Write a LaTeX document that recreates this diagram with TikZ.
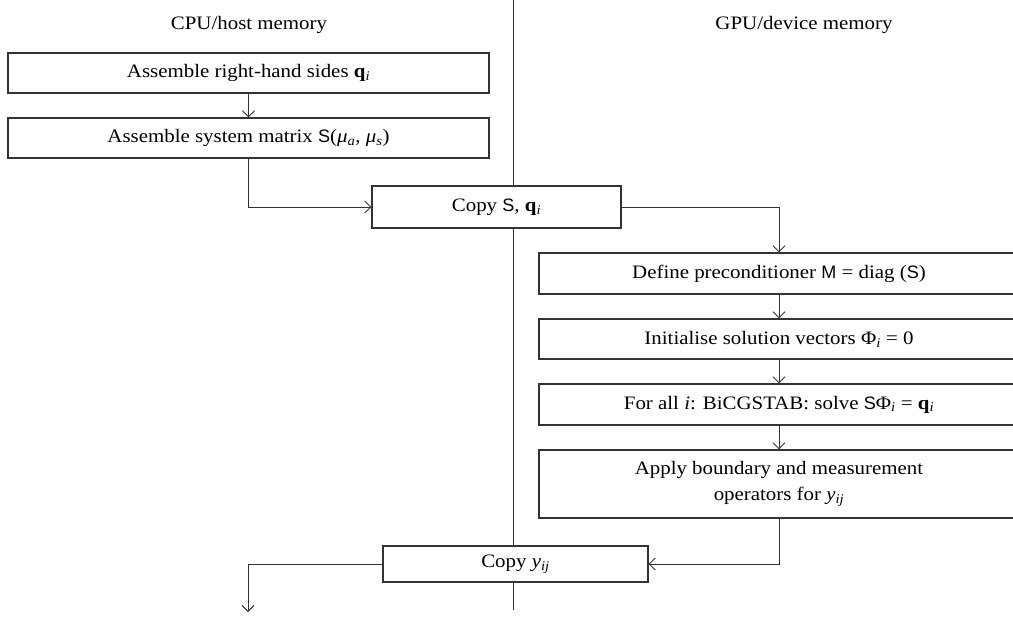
\documentclass[tikz,border=0pt]{standalone}
\usepackage{fontspec}
\setmainfont{Liberation Serif}[FakeStretch=1.1]
\setsansfont{Liberation Sans}[Scale=0.95]
\usetikzlibrary{arrows.meta}
\newcommand{\fsz}{\fontsize{19}{26}\selectfont}
\newcommand{\vq}{\textbf{q}\textsubscript{\textit{i}}}
\newcommand{\vy}{\textit{y}\textsubscript{\textit{ij}}}
\begin{document}
\begin{tikzpicture}[x=1pt,y=-1pt,
  box/.style={draw=black!80, line width=1.3pt, fill=white, inner sep=0pt, align=center, font=\fsz},
  conn/.style={draw=black!80, line width=0.9pt},
  arr/.style={conn, -{Straight Barb[length=6pt,width=12pt]}},
  head/.style={font=\fsz, inner sep=0pt}]
\useasboundingbox (0,0) rectangle (1013,619);
\coordinate (dtop) at (513,0);
\coordinate (dbot) at (513,610);
\draw[conn] (dtop) -- (dbot);
\node[head] (hcpu) at (249,25) {CPU/host memory};
\node[head] (hgpu) at (804,25) {GPU/device memory};
\node[box, minimum width=481, minimum height=40] (b1) at (248.5,73) {Assemble right-hand sides \vq};
\node[box, minimum width=481, minimum height=40] (b2) at (248.5,138) {Assemble system matrix \textsf{S}(\textit{μ}\textsubscript{\textit{a}}, \textit{μ}\textsubscript{\textit{s}})};
\node[box, minimum width=249, minimum height=42] (cs) at (496.5,207) {Copy \textsf{S}, \vq};
\node[box, minimum width=480, minimum height=41] (d1) at (779,273.5) {Define preconditioner \textsf{M} = diag (\textsf{S})};
\node[box, minimum width=480, minimum height=40] (d2) at (779,339) {Initialise solution vectors Φ\textsubscript{\textit{i}} = 0};
\node[box, minimum width=480, minimum height=41] (d3) at (779,404.5) {For all \textit{i}: BiCGSTAB: solve \textsf{S}Φ\textsubscript{\textit{i}} = \vq};
\node[box, minimum width=480, minimum height=68] (d4) at (779,484) {Apply boundary and measurement\\operators for \vy};
\node[box, minimum width=265, minimum height=36] (cy) at (515.5,564) {Copy \vy};
\coordinate (out) at (248,612);
\draw[arr] (b1) -- (b2);
\draw[arr] (b2.south) |- (cs.west);
\draw[arr] (cs.east) -| (d1.north);
\draw[arr] (d1) -- (d2);
\draw[arr] (d2) -- (d3);
\draw[arr] (d3) -- (d4);
\draw[arr] (d4.south) |- (cy.east);
\draw[arr] (cy.west) -| (out);
\end{tikzpicture}
\end{document}
